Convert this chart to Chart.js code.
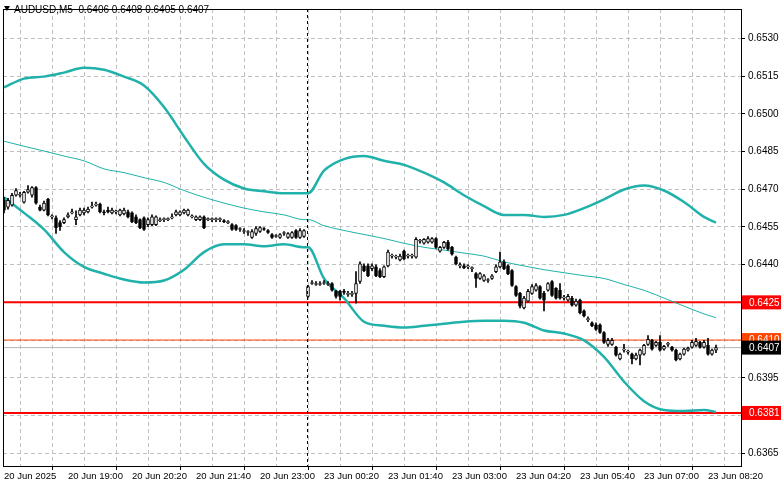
<!DOCTYPE html>
<html><head><meta charset="utf-8">
<script src="https://cdn.jsdelivr.net/npm/chart.js@4/dist/chart.umd.min.js"></script>
<style>html,body{margin:0;padding:0;background:#fff;}canvas{display:block;}</style>
</head><body>
<canvas id="c" width="781" height="489"></canvas>
<script>
const title = 'AUDUSD,M5  0.6406 0.6408 0.6405 0.6407';
const xLabels = ['20 Jun 2025','20 Jun 19:00','20 Jun 20:20','20 Jun 21:40','20 Jun 23:00','23 Jun 00:20','23 Jun 01:40','23 Jun 03:00','23 Jun 04:20','23 Jun 05:40','23 Jun 07:00','23 Jun 08:20'];
const yTicks = [0.6365,0.6380,0.6395,0.6410,0.6425,0.6440,0.6455,0.6470,0.6485,0.6500,0.6515,0.6530];
const sessionBreak = 75.75;
const openP = [0.64656,0.64629,0.64637,0.64676,0.64676,0.64649,0.64688,0.64676,0.64707,0.64629,0.64617,0.64660,0.64590,0.64586,0.64567,0.64567,0.64590,0.64606,0.64579,0.64598,0.64606,0.64610,0.64629,0.64637,0.64641,0.64610,0.64617,0.64606,0.64610,0.64598,0.64602,0.64610,0.64606,0.64590,0.64579,0.64586,0.64559,0.64559,0.64559,0.64575,0.64579,0.64579,0.64586,0.64598,0.64598,0.64606,0.64598,0.64590,0.64579,0.64579,0.64590,0.64579,0.64579,0.64579,0.64579,0.64575,0.64567,0.64559,0.64555,0.64540,0.64532,0.64528,0.64508,0.64524,0.64532,0.64543,0.64536,0.64520,0.64512,0.64508,0.64524,0.64508,0.64508,0.64536,0.64508,0.64512,
0.64274,0.64325,0.64321,0.64321,0.64325,0.64321,0.64325,0.64294,0.64294,0.64294,0.64282,0.64282,0.64286,0.64333,0.64395,0.64395,0.64384,0.64391,0.64376,0.64352,0.64395,0.64434,0.64430,0.64419,0.64454,0.64434,0.64434,0.64430,0.64493,0.64485,0.64489,0.64489,0.64504,0.64454,0.64469,0.64489,0.64469,0.64430,0.64395,0.64395,0.64391,0.64384,0.64364,0.64345,0.64337,0.64337,
0.64345,0.64372,0.64391,0.64411,0.64395,0.64376,0.64313,0.64286,0.64228,0.64255,0.64286,0.64298,0.64313,0.64286,0.64298,0.64333,0.64306,0.64298,0.64267,0.64259,0.64267,0.64239,0.64259,0.64216,0.64181,0.64169,0.64161,0.64161,0.64130,0.64083,0.64083,0.64072,0.64025,0.64060,0.64052,0.64044,0.64025,0.64040,0.64044,0.64083,0.64099,0.64079,0.64091,0.64064,0.64083,0.64072,0.64060,0.64025,0.64044,0.64060,0.64072,0.64079,0.64091,0.64072,0.64079,0.64044,0.64060];
const closeP = [0.64617,0.64656,0.64676,0.64695,0.64680,0.64688,0.64699,0.64707,0.64645,0.64617,0.64645,0.64598,0.64590,0.64547,0.64551,0.64579,0.64598,0.64610,0.64590,0.64617,0.64617,0.64621,0.64633,0.64637,0.64610,0.64606,0.64610,0.64617,0.64610,0.64617,0.64617,0.64590,0.64571,0.64567,0.64547,0.64540,0.64579,0.64590,0.64590,0.64579,0.64579,0.64579,0.64590,0.64610,0.64610,0.64617,0.64617,0.64590,0.64590,0.64590,0.64547,0.64579,0.64579,0.64579,0.64579,0.64571,0.64567,0.64540,0.64540,0.64540,0.64532,0.64528,0.64532,0.64543,0.64547,0.64540,0.64528,0.64508,0.64512,0.64520,0.64524,0.64524,0.64528,0.64508,0.64536,0.64536,
0.64313,0.64329,0.64325,0.64325,0.64329,0.64325,0.64298,0.64274,0.64274,0.64290,0.64282,0.64282,0.64325,0.64403,0.64376,0.64356,0.64395,0.64356,0.64352,0.64391,0.64450,0.64434,0.64430,0.64434,0.64423,0.64434,0.64434,0.64501,0.64493,0.64501,0.64504,0.64504,0.64469,0.64469,0.64489,0.64462,0.64442,0.64403,0.64395,0.64387,0.64391,0.64384,0.64345,0.64364,0.64356,0.64337,
0.64356,0.64391,0.64411,0.64384,0.64364,0.64317,0.64278,0.64235,0.64267,0.64294,0.64313,0.64317,0.64267,0.64259,0.64325,0.64278,0.64267,0.64267,0.64267,0.64274,0.64239,0.64255,0.64208,0.64196,0.64181,0.64157,0.64142,0.64130,0.64091,0.64099,0.64099,0.64040,0.64044,0.64060,0.64052,0.64025,0.64040,0.64060,0.64079,0.64103,0.64064,0.64091,0.64060,0.64075,0.64083,0.64060,0.64021,0.64044,0.64064,0.64068,0.64091,0.64095,0.64072,0.64091,0.64044,0.64060,0.64070];
const highP = [0.64668,0.64664,0.64684,0.64703,0.64688,0.64692,0.64715,0.64711,0.64711,0.64637,0.64653,0.64664,0.64598,0.64594,0.64575,0.64586,0.64606,0.64621,0.64614,0.64625,0.64625,0.64629,0.64649,0.64649,0.64645,0.64617,0.64629,0.64625,0.64617,0.64621,0.64625,0.64617,0.64610,0.64598,0.64582,0.64590,0.64586,0.64598,0.64594,0.64586,0.64586,0.64586,0.64602,0.64617,0.64614,0.64621,0.64621,0.64598,0.64594,0.64594,0.64594,0.64586,0.64586,0.64586,0.64586,0.64579,0.64575,0.64563,0.64559,0.64547,0.64543,0.64536,0.64540,0.64551,0.64551,0.64547,0.64540,0.64524,0.64520,0.64524,0.64532,0.64528,0.64532,0.64540,0.64543,0.64540,
0.64317,0.64337,0.64333,0.64333,0.64337,0.64333,0.64329,0.64298,0.64298,0.64302,0.64294,0.64294,0.64372,0.64411,0.64403,0.64403,0.64403,0.64399,0.64384,0.64395,0.64458,0.64442,0.64438,0.64442,0.64458,0.64442,0.64442,0.64508,0.64501,0.64504,0.64512,0.64508,0.64508,0.64473,0.64493,0.64497,0.64473,0.64434,0.64407,0.64403,0.64399,0.64391,0.64368,0.64368,0.64360,0.64345,
0.64360,0.64399,0.64450,0.64419,0.64399,0.64380,0.64317,0.64290,0.64274,0.64302,0.64321,0.64325,0.64317,0.64294,0.64329,0.64337,0.64309,0.64325,0.64278,0.64282,0.64274,0.64263,0.64263,0.64220,0.64192,0.64173,0.64169,0.64165,0.64134,0.64107,0.64107,0.64075,0.64048,0.64083,0.64060,0.64048,0.64048,0.64064,0.64083,0.64118,0.64103,0.64095,0.64118,0.64079,0.64091,0.64075,0.64064,0.64048,0.64068,0.64072,0.64099,0.64107,0.64095,0.64099,0.64107,0.64064,0.64080];
const lowP = [0.64606,0.64621,0.64633,0.64672,0.64668,0.64645,0.64684,0.64668,0.64641,0.64614,0.64614,0.64594,0.64582,0.64524,0.64536,0.64563,0.64586,0.64602,0.64559,0.64594,0.64598,0.64606,0.64625,0.64633,0.64606,0.64598,0.64606,0.64602,0.64602,0.64594,0.64598,0.64586,0.64567,0.64563,0.64543,0.64536,0.64551,0.64555,0.64555,0.64571,0.64571,0.64575,0.64582,0.64594,0.64594,0.64602,0.64594,0.64586,0.64575,0.64575,0.64543,0.64575,0.64571,0.64571,0.64571,0.64567,0.64563,0.64536,0.64536,0.64532,0.64524,0.64516,0.64504,0.64516,0.64528,0.64536,0.64524,0.64504,0.64508,0.64504,0.64516,0.64504,0.64504,0.64504,0.64504,0.64508,
0.64270,0.64321,0.64317,0.64317,0.64321,0.64317,0.64294,0.64267,0.64259,0.64282,0.64274,0.64274,0.64247,0.64325,0.64372,0.64352,0.64376,0.64352,0.64348,0.64348,0.64391,0.64426,0.64423,0.64415,0.64419,0.64426,0.64426,0.64426,0.64485,0.64481,0.64485,0.64485,0.64465,0.64450,0.64465,0.64458,0.64438,0.64399,0.64387,0.64384,0.64384,0.64372,0.64309,0.64341,0.64333,0.64329,
0.64341,0.64368,0.64387,0.64380,0.64360,0.64313,0.64274,0.64228,0.64224,0.64251,0.64282,0.64294,0.64263,0.64216,0.64294,0.64274,0.64263,0.64263,0.64259,0.64255,0.64235,0.64235,0.64204,0.64192,0.64173,0.64153,0.64138,0.64126,0.64087,0.64075,0.64079,0.64036,0.64021,0.64052,0.64044,0.64005,0.64021,0.64001,0.64040,0.64079,0.64060,0.64075,0.64056,0.64060,0.64075,0.64056,0.64017,0.64021,0.64040,0.64056,0.64068,0.64075,0.64068,0.64068,0.64040,0.64040,0.64050];
const bandIdx = [0,5,10,15,20,25,30,35,40,45,50,55,60,65,70,75,76,80,85,90,95,100,105,110,115,120,125,130,135,140,145,150,155,160,165,170,175,178];
const upperBand = [0.65105,0.65140,0.65148,0.65164,0.65183,0.65175,0.65148,0.65113,0.65027,0.64910,0.64801,0.64738,0.64703,0.64692,0.64684,0.64684,0.64684,0.64774,0.64820,0.64832,0.64813,0.64797,0.64766,0.64727,0.64676,0.64633,0.64598,0.64598,0.64590,0.64598,0.64625,0.64660,0.64699,0.64715,0.64695,0.64649,0.64590,0.64567];
const middleBand = [0.64891,0.64871,0.64852,0.64832,0.64813,0.64781,0.64766,0.64746,0.64727,0.64695,0.64668,0.64645,0.64625,0.64610,0.64598,0.64579,0.64579,0.64555,0.64536,0.64520,0.64504,0.64485,0.64469,0.64458,0.64446,0.64434,0.64411,0.64395,0.64380,0.64368,0.64356,0.64345,0.64321,0.64298,0.64267,0.64235,0.64204,0.64189];
const lowerBand = [0.64668,0.64606,0.64540,0.64450,0.64391,0.64364,0.64341,0.64329,0.64337,0.64380,0.64450,0.64481,0.64481,0.64473,0.64481,0.64469,0.64469,0.64345,0.64267,0.64173,0.64157,0.64150,0.64157,0.64165,0.64173,0.64177,0.64177,0.64169,0.64138,0.64126,0.64099,0.64033,0.63935,0.63857,0.63822,0.63818,0.63822,0.63814];
const supportResistance = [0.6425, 0.6381];
const bidLevel = 0.6407, askLevel = 0.6410;

const X_MIN = -0.25, X_MAX = 184.25;
const FONT = 'Liberation Sans';
const teal = '#20b2aa';
const n = closeP.length;
const wicks = [], bodies = [];
for (let i = 0; i < n; i++) {
  wicks.push({x: i, y: [lowP[i], highP[i]]});
  bodies.push({x: i, y: [openP[i], closeP[i]]});
}
const bull = i => closeP[i] >= openP[i];
const band = arr => bandIdx.map((b, k) => ({x: b, y: arr[k]}));
const hline = (v) => [{x: X_MIN, y: v}, {x: X_MAX, y: v}];

const overlay = {
  id: 'overlay',
  afterDatasetsDraw(chart) {
    const {ctx, chartArea: a, scales: {x}} = chart;
    ctx.save();
    const sx = Math.round(x.getPixelForValue(sessionBreak)) + 0.5;
    ctx.strokeStyle = '#000'; ctx.lineWidth = 1; ctx.setLineDash([3, 3]);
    ctx.beginPath(); ctx.moveTo(sx, a.top); ctx.lineTo(sx, a.bottom); ctx.stroke();
    ctx.restore();
  },
  afterDraw(chart) {
    const {ctx, chartArea: a, scales: {y}} = chart;
    ctx.save();
    ctx.strokeStyle = '#000'; ctx.lineWidth = 1;
    ctx.strokeRect(a.left + 0.5, a.top + 0.5, a.right - a.left, a.bottom - a.top);
    ctx.fillStyle = '#000';
    ctx.beginPath(); ctx.moveTo(4, 6); ctx.lineTo(10, 6); ctx.lineTo(7, 11); ctx.closePath(); ctx.fill();
    ctx.font = '10px ' + FONT; ctx.textBaseline = 'middle'; ctx.textAlign = 'left';
    ctx.fillText(title, 14, 10);
    const box = (v, bg, fg) => {
      const py = y.getPixelForValue(v);
      ctx.fillStyle = bg; ctx.fillRect(a.right + 1, py - 7, 40, 14);
      ctx.fillStyle = fg; ctx.font = '10px ' + FONT; ctx.textAlign = 'left';
      ctx.fillText(v.toFixed(4), a.right + 8, py + 0.5);
    };
    box(supportResistance[0], '#ff0000', '#fff');
    box(askLevel, '#ff4500', '#fff');
    box(bidLevel, '#000', '#fff');
    box(supportResistance[1], '#ff0000', '#fff');
    ctx.restore();
  }
};

new Chart(document.getElementById('c'), {
  data: {
    datasets: [
      {type: 'line', data: hline(askLevel), borderColor: '#ff4500', borderWidth: 1, pointRadius: 0, order: 5},
      {type: 'line', data: hline(bidLevel), borderColor: '#b4b4b4', borderWidth: 1, pointRadius: 0, order: 5},
      {type: 'line', data: hline(supportResistance[0]), borderColor: '#ff0000', borderWidth: 2, pointRadius: 0, order: 4},
      {type: 'line', data: hline(supportResistance[1]), borderColor: '#ff0000', borderWidth: 2, pointRadius: 0, order: 4},
      {type: 'line', data: band(upperBand), borderColor: teal, borderWidth: 2.5, pointRadius: 0, cubicInterpolationMode: 'monotone', order: 3},
      {type: 'line', data: band(middleBand), borderColor: teal, borderWidth: 1, pointRadius: 0, cubicInterpolationMode: 'monotone', order: 3},
      {type: 'line', data: band(lowerBand), borderColor: teal, borderWidth: 2.5, pointRadius: 0, cubicInterpolationMode: 'monotone', order: 3},
      {type: 'bar', data: wicks, backgroundColor: '#000', borderWidth: 0, barThickness: 1, grouped: false, order: 2},
      {type: 'bar', data: bodies, grouped: false, barThickness: 3, minBarLength: 1, order: 1,
        backgroundColor: c => bull(c.dataIndex) ? '#fff' : '#000', borderColor: '#000', borderWidth: 1, borderSkipped: false}
    ]
  },
  options: {
    responsive: false, animation: false, devicePixelRatio: 1,
    layout: {padding: {left: 3, top: 0, right: 0, bottom: 0}},
    plugins: {legend: {display: false}, tooltip: {enabled: false}},
    scales: {
      x: {
        type: 'linear', min: X_MIN, max: X_MAX, position: 'bottom', offset: false,
        afterBuildTicks: s => { const t = []; for (let v = 0; v <= 184; v += 8) t.push({value: v}); s.ticks = t; },
        afterFit: s => { s.height = 23; },
        ticks: {autoSkip: false, maxRotation: 0, minRotation: 0, align: 'start', padding: 1, color: '#000',
          font: {family: FONT, size: 9.5}, callback: v => (v % 16 === 0 ? xLabels[v / 16] : '')},
        grid: {color: '#c0c0c0', tickLength: 4, tickColor: c => (c.tick && c.tick.value % 16 === 0 ? '#000' : 'rgba(0,0,0,0)')},
        border: {display: false, dash: [4, 3]}
      },
      y: {
        type: 'linear', position: 'right', min: 0.63599, max: 0.65417,
        afterBuildTicks: s => { s.ticks = yTicks.map(v => ({value: v})); },
        afterFit: s => { s.width = 40; },
        ticks: {padding: 3, color: '#000', font: {family: FONT, size: 10}, callback: v => v.toFixed(4)},
        grid: {color: '#c0c0c0', tickLength: 4, tickColor: '#000'},
        border: {display: false, dash: [4, 3]}
      }
    }
  },
  plugins: [overlay]
});
</script>
</body></html>
